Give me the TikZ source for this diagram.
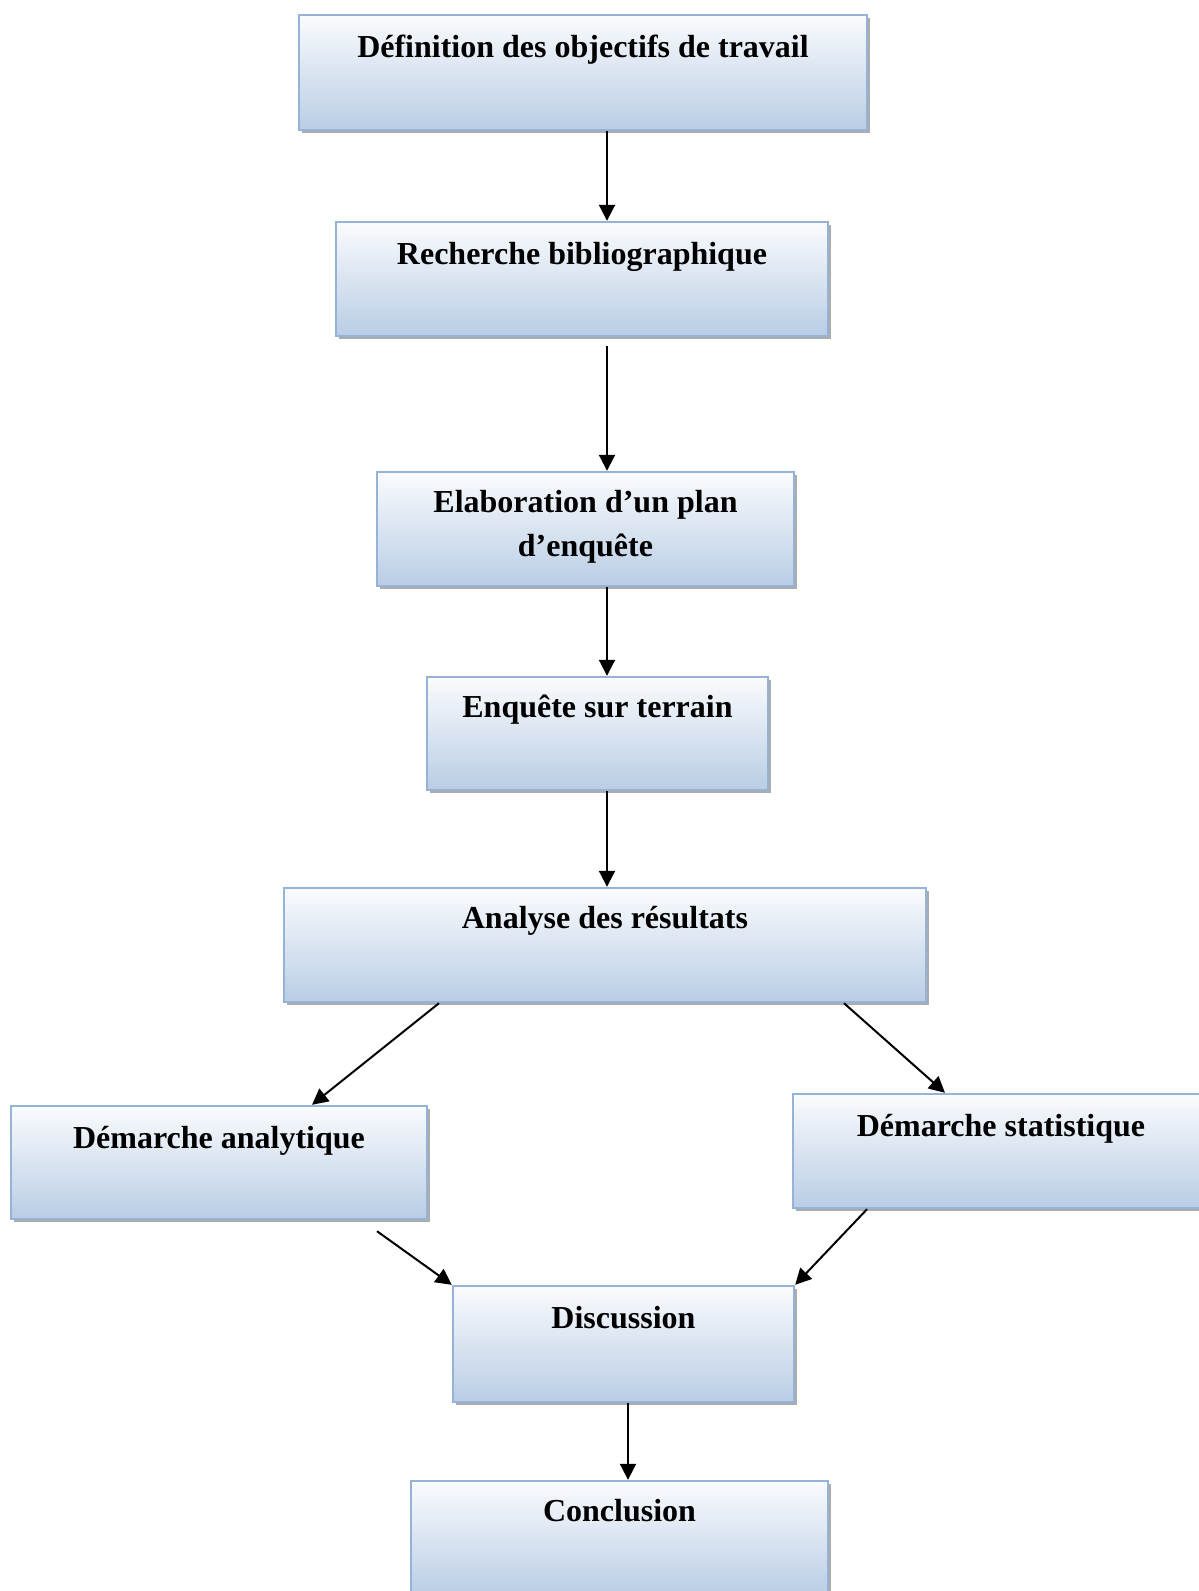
\documentclass[tikz,border=0pt]{standalone}
\usepackage{fontspec}
\setmainfont{Liberation Serif}
\usetikzlibrary{arrows.meta,shadows,positioning}

\definecolor{bordbleu}{RGB}{149,179,215}
\definecolor{hautbleu}{RGB}{250,251,253}
\definecolor{basbleu}{RGB}{185,205,229}

\begin{document}
\begin{tikzpicture}[x=0.5pt,y=-0.5pt,
        boite/.style 2 args={draw=bordbleu, line width=1.2pt, top color=hautbleu, bottom color=basbleu,
            minimum width=0.5*#1pt, minimum height=0.5*#2pt, inner sep=0pt,
            drop shadow={shadow xshift=1.5pt, shadow yshift=-1.5pt, fill=gray!65, opacity=1}},
        titre/.style={font=\bfseries\fontsize{16}{22}\selectfont, align=center, inner sep=0pt, anchor=north},
        fleche/.style={-{Triangle[length=8pt,width=8pt]}, line width=1pt}]

        \useasboundingbox (0,0) rectangle (1199,1591);

        \node[boite={568}{115}] (b1) at (583,72.5) {};
        \node[boite={492}{114}] (b2) at (582,279) {};
        \node[boite={417}{114}] (b3) at (585.5,529) {};
        \node[boite={341}{113}] (b4) at (597.5,733.5) {};
        \node[boite={642}{114}] (b5) at (605,945) {};
        \node[boite={416}{113}] (b6) at (219,1162.5) {};
        \node[boite={416}{114}] (b7) at (1001,1151) {};
        \node[boite={341}{116}] (b8) at (623.5,1344) {};
        \node[boite={417}{115}] (b9) at (619.5,1538.5) {};

        \node[titre] (t1) at ([yshift=-10.5pt]b1.north) {Définition des objectifs de travail};
        \node[titre] (t2) at ([yshift=-10.5pt]b2.north) {Recherche bibliographique};
        \node[titre] (t3) at ([yshift=-9.5pt]b3.north) {Elaboration d’un plan\\d’enquête};
        \node[titre] (t4) at ([yshift=-9.5pt]b4.north) {Enquête sur terrain};
        \node[titre] (t5) at ([yshift=-9.5pt]b5.north) {Analyse des résultats};
        \node[titre] (t6) at ([yshift=-10.5pt]b6.north) {Démarche analytique};
        \node[titre] (t7) at ([yshift=-10.5pt]b7.north) {Démarche statistique};
        \node[titre] (t8) at ([yshift=-10.5pt]b8.north) {Discussion};
        \node[titre] (t9) at ([yshift=-9.5pt]b9.north) {Conclusion};

        \draw[fleche] ([xshift=1pt]b1.south -| b5.north) -- ([xshift=1pt]b2.north -| b5.north);
        \draw[fleche, shorten <=4.5pt] ([xshift=1pt]b2.south -| b5.north) -- ([xshift=1pt]b3.north -| b5.north);
        \draw[fleche] ([xshift=1pt]b3.south -| b5.north) -- ([xshift=1pt]b4.north -| b5.north);
        \draw[fleche] ([xshift=1pt]b4.south -| b5.north) -- ([xshift=1pt]b5.north);
        \draw[fleche] ([xshift=-83pt]b5.south) -- ([xshift=46.5pt]b6.north);
        \draw[fleche] ([xshift=119.5pt]b5.south) -- ([xshift=-28pt]b7.north);
        \draw[fleche] ([xshift=79pt,yshift=-5.5pt]b6.south) -- (b8.north west);
        \draw[fleche] ([xshift=-67pt]b7.south) -- (b8.north east);
        \draw[fleche] ([xshift=2.25pt]b8.south) -- ([xshift=4.25pt]b9.north);
\end{tikzpicture}
\end{document}
